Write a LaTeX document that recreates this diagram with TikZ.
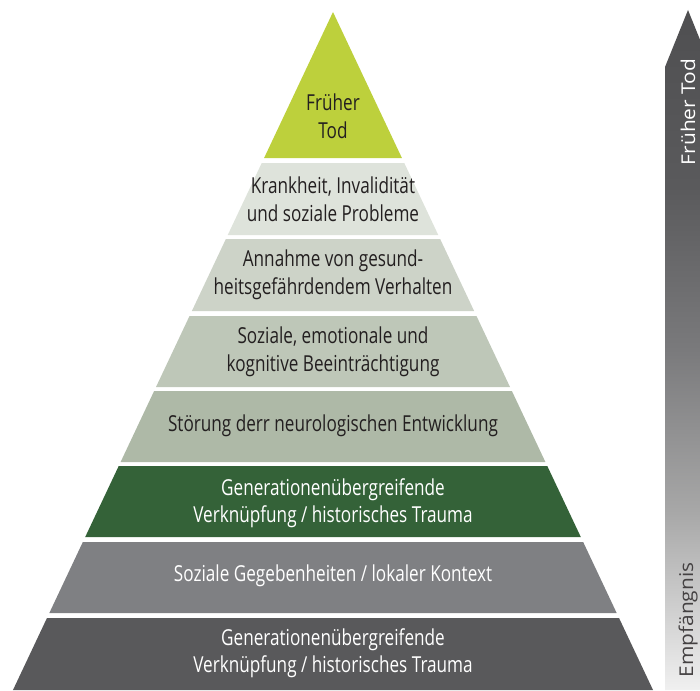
\documentclass[tikz,border=0pt]{standalone}
\usepackage{fontspec}
\setmainfont[FakeStretch=0.78]{Open Sans}
\newfontfamily\arrowfont[FakeStretch=1.1]{Open Sans}
\definecolor{ctop}{HTML}{BDD03C}
\definecolor{cb2}{HTML}{DEE3DB}
\definecolor{cb3}{HTML}{CDD3C8}
\definecolor{cb4}{HTML}{BEC7B8}
\definecolor{cb5}{HTML}{AEB9A7}
\definecolor{cb6}{HTML}{346238}
\definecolor{cb7}{HTML}{7F8083}
\definecolor{cb8}{HTML}{59595B}
\definecolor{txtdark}{HTML}{231F20}
\definecolor{atop}{HTML}{4F4F51}
\definecolor{aa}{HTML}{5A5A5C}
\definecolor{ab}{HTML}{7A7A7C}
\definecolor{ac}{HTML}{A8A8A8}
\definecolor{abot}{HTML}{F0F0F0}
\pgfdeclareverticalshading{arrowshade}{100bp}{color(0bp)=(abot); color(25bp)=(abot); color(38bp)=(ac); color(50bp)=(ab); color(62bp)=(aa); color(75bp)=(atop); color(100bp)=(atop)}
\newcommand\pyrband[3]{\fill[#3] ({333-0.472*(#1-12)},#1) -- ({333+0.472*(#1-12)},#1) -- ({333+0.472*(#2-12)},#2) -- ({333-0.472*(#2-12)},#2) -- cycle;}
\tikzset{
  lbl/.style={align=center, font=\fontsize{22}{27.5}\selectfont, text=txtdark, inner sep=0pt},
  lblw/.style={lbl, text=white},
  arrowtxt/.style={rotate=90, font=\arrowfont\fontsize{19}{22}\selectfont, inner sep=0pt}
}
\begin{document}
\begin{tikzpicture}[x=1pt,y=-1pt]
\useasboundingbox (0,0) rectangle (700,690);
\clip (0,0) rectangle (700,690);
% right arrow
\shade[shading=arrowshade] (665,67) -- (688,10) -- (711,67) -- (711,690) -- (665,690) -- cycle;
\node[arrowtxt, text=white] (late) at (688,112) {Früher Tod};
\node[arrowtxt, text=txtdark!85] (early) at (688,620) {Empfängnis};
% pyramid
\fill[ctop] (333,12) -- ({333+0.472*146},158) -- ({333-0.472*146},158) -- cycle;
\pyrband{163}{235}{cb2}
\pyrband{239}{311}{cb3}
\pyrband{316}{387}{cb4}
\pyrband{391}{462}{cb5}
\pyrband{466}{537}{cb6}
\pyrband{542}{613}{cb7}
\pyrband{618}{690}{cb8}
\node[lbl] (t1) at (333,116) {Früher\\Tod};
\node[lbl] (t2) at (333,199) {Krankheit, Invalidität\\und soziale Probleme};
\node[lbl] (t3) at (333,275) {Annahme von gesund-\\heitsgefährdendem Verhalten};
\node[lbl] (t4) at (333,352) {Soziale, emotionale und\\kognitive Beeinträchtigung};
\node[lbl] (t5) at (333,426) {Störung derr neurologischen Entwicklung};
\node[lblw] (t6) at (333,503) {Generationenübergreifende\\Verknüpfung / historisches Trauma};
\node[lblw] (t7) at (333,576) {Soziale Gegebenheiten / lokaler Kontext};
\node[lblw] (t8) at (333,653) {Generationenübergreifende\\Verknüpfung / historisches Trauma};
\end{tikzpicture}
\end{document}
